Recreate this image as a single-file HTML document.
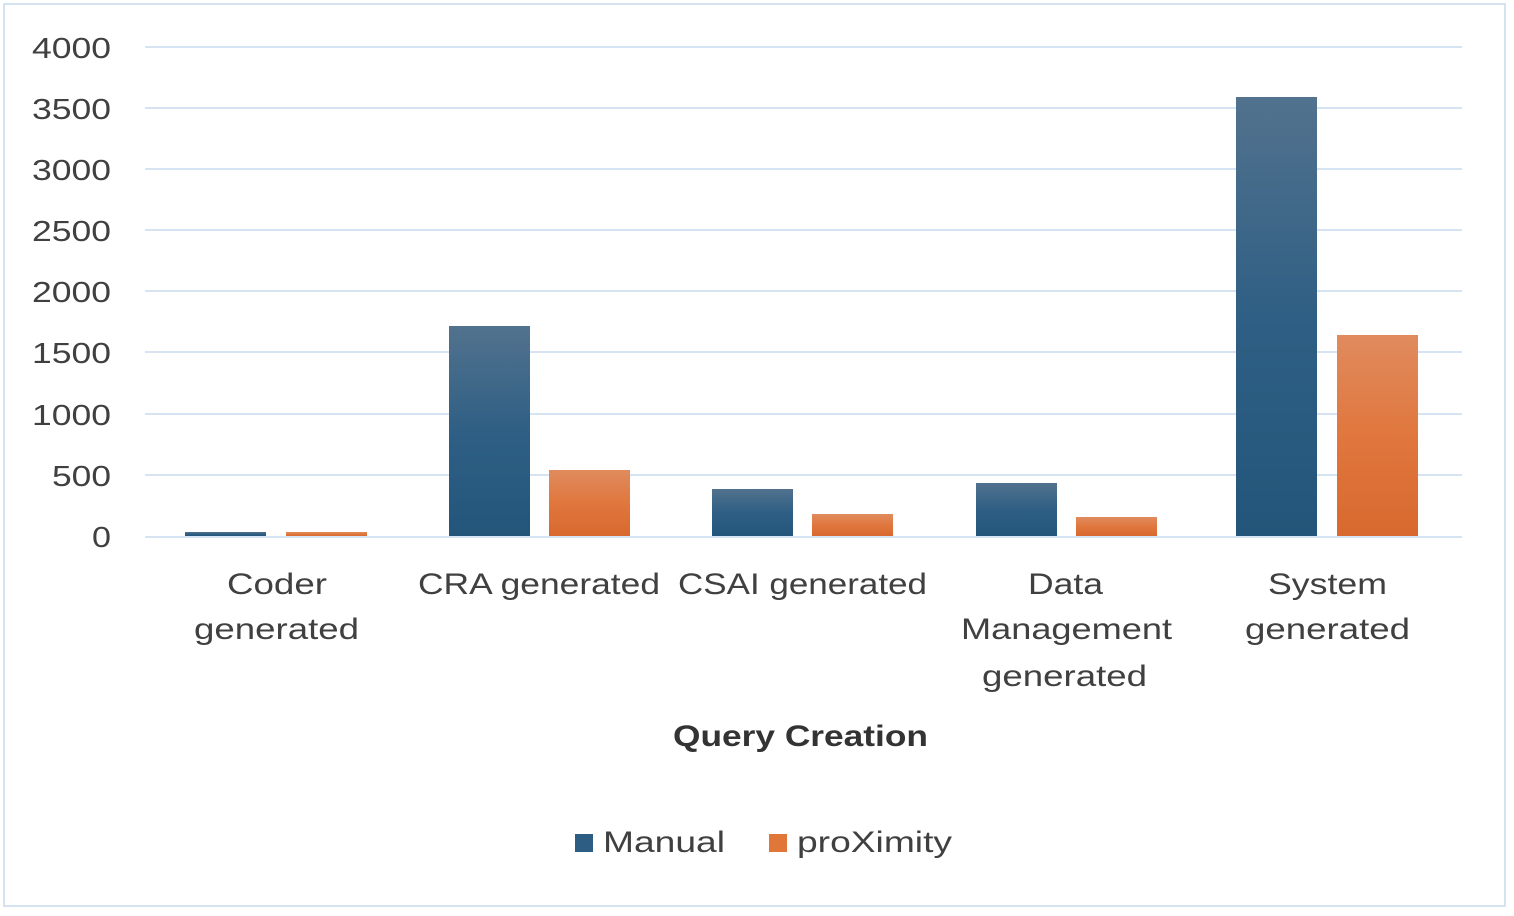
<!DOCTYPE html>
<html><head><meta charset="utf-8"><style>
body{margin:0;background:#fff;}
svg{display:block;}
text{font-family:"Liberation Sans",sans-serif;fill:#404040;}
</style></head><body>
<svg width="1514" height="916" viewBox="0 0 1514 916">
<defs>
<linearGradient id="gb" x1="0" y1="0" x2="0" y2="1"><stop offset="0" stop-color="#52728e"/><stop offset="0.5" stop-color="#2f5f84"/><stop offset="1" stop-color="#23557a"/></linearGradient>
<linearGradient id="go" x1="0" y1="0" x2="0" y2="1"><stop offset="0" stop-color="#e08b5e"/><stop offset="0.5" stop-color="#e0773e"/><stop offset="1" stop-color="#d8692f"/></linearGradient>
</defs>
<rect x="4" y="4" width="1501" height="902" fill="#fff" stroke="#d5e2f0" stroke-width="2"/>
<g stroke="#d6e3f3" stroke-width="2">
<line x1="145" x2="1462" y1="47" y2="47"/><line x1="145" x2="1462" y1="108" y2="108"/>
<line x1="145" x2="1462" y1="169" y2="169"/><line x1="145" x2="1462" y1="230" y2="230"/>
<line x1="145" x2="1462" y1="291" y2="291"/><line x1="145" x2="1462" y1="352" y2="352"/>
<line x1="145" x2="1462" y1="414" y2="414"/><line x1="145" x2="1462" y1="475" y2="475"/>
<line x1="145" x2="1462" y1="537" y2="537"/>
</g>
<g font-size="29">
<text x="32" y="58" textLength="79" lengthAdjust="spacingAndGlyphs">4000</text>
<text x="32" y="119" textLength="79" lengthAdjust="spacingAndGlyphs">3500</text>
<text x="32" y="180" textLength="79" lengthAdjust="spacingAndGlyphs">3000</text>
<text x="32" y="241" textLength="79" lengthAdjust="spacingAndGlyphs">2500</text>
<text x="32" y="302" textLength="79" lengthAdjust="spacingAndGlyphs">2000</text>
<text x="32" y="363" textLength="79" lengthAdjust="spacingAndGlyphs">1500</text>
<text x="32" y="425" textLength="79" lengthAdjust="spacingAndGlyphs">1000</text>
<text x="52" y="486" textLength="59" lengthAdjust="spacingAndGlyphs">500</text>
<text x="92" y="547" textLength="19" lengthAdjust="spacingAndGlyphs">0</text>
</g>
<rect x="185" y="532" width="81" height="4" fill="url(#gb)"/>
<rect x="286" y="532" width="81" height="4" fill="url(#go)"/>
<rect x="449" y="326" width="81" height="210" fill="url(#gb)"/>
<rect x="549" y="470" width="81" height="66" fill="url(#go)"/>
<rect x="712" y="489" width="81" height="47" fill="url(#gb)"/>
<rect x="812" y="514" width="81" height="22" fill="url(#go)"/>
<rect x="976" y="483" width="81" height="53" fill="url(#gb)"/>
<rect x="1076" y="517" width="81" height="19" fill="url(#go)"/>
<rect x="1236" y="97" width="81" height="439" fill="url(#gb)"/>
<rect x="1337" y="335" width="81" height="201" fill="url(#go)"/>
<g font-size="30">
<text x="227" y="594" textLength="100" lengthAdjust="spacingAndGlyphs">Coder</text>
<text x="194" y="639" textLength="165" lengthAdjust="spacingAndGlyphs">generated</text>
<text x="418" y="594" textLength="242" lengthAdjust="spacingAndGlyphs">CRA generated</text>
<text x="678" y="594" textLength="249" lengthAdjust="spacingAndGlyphs">CSAI generated</text>
<text x="1028" y="594" textLength="75" lengthAdjust="spacingAndGlyphs">Data</text>
<text x="961" y="639" textLength="211" lengthAdjust="spacingAndGlyphs">Management</text>
<text x="982" y="686" textLength="165" lengthAdjust="spacingAndGlyphs">generated</text>
<text x="1268" y="594" textLength="119" lengthAdjust="spacingAndGlyphs">System</text>
<text x="1245" y="639" textLength="165" lengthAdjust="spacingAndGlyphs">generated</text>
<text x="673" y="746" font-weight="bold" style="fill:#333" textLength="255" lengthAdjust="spacingAndGlyphs">Query Creation</text>
</g>
<rect x="575" y="834" width="18" height="18" fill="#2d5d82"/>
<text x="603" y="852" font-size="30" textLength="122" lengthAdjust="spacingAndGlyphs">Manual</text>
<rect x="769" y="834" width="18" height="18" fill="#e07638"/>
<text x="797" y="852" font-size="30" textLength="155" lengthAdjust="spacingAndGlyphs">proXimity</text>
</svg>
</body></html>
